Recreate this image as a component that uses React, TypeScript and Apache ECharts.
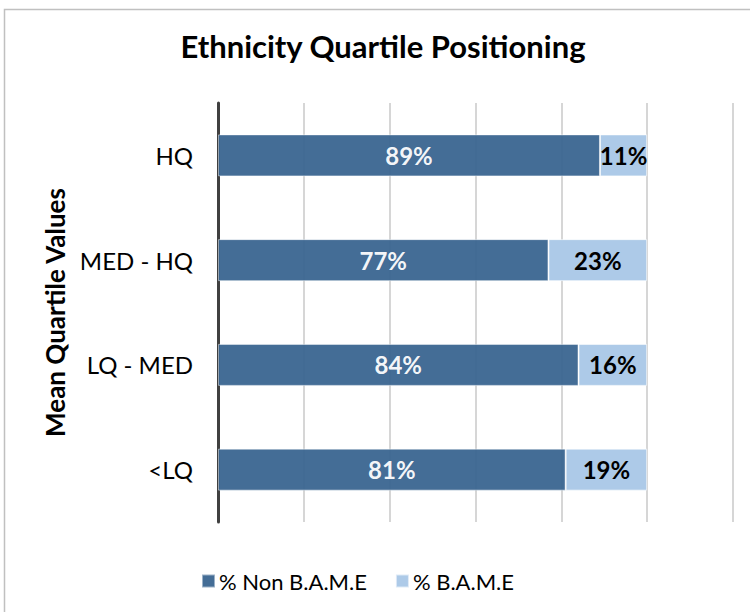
import React, { useEffect, useRef } from "react";
import * as echarts from "echarts";

const categories = ["<LQ", "LQ - MED", "MED - HQ", "HQ"];
const nonBame = [81, 84, 77, 89];
const bame = [19, 16, 23, 11];
const seriesNames = ["% Non B.A.M.E", "% B.A.M.E"];
const titleText = "Ethnicity Quartile Positioning";
const yAxisName = "Mean Quartile Values";

const FONT = "Lato, 'Open Sans', sans-serif";

export default function App() {
  const ref = useRef<HTMLDivElement>(null);
  useEffect(() => {
    if (!ref.current) return;
    const chart = echarts.init(ref.current, undefined, { renderer: "svg" });
    chart.setOption({
      animation: false,
      backgroundColor: "#ffffff",
      title: {
        text: titleText,
        left: 378,
        textAlign: "center",
        top: 25,
        textStyle: { fontFamily: FONT, fontSize: 31, fontWeight: "bold", color: "#000" },
      },
      graphic: [
        {
          type: "rect",
          shape: { x: 4.5, y: 9.5, width: 800, height: 700 },
          style: { fill: "none", stroke: "#c0c0c0", lineWidth: 1.5 },
          silent: true,
        },
      ],
      legend: {
        bottom: 20,
        left: 201,
        padding: 0,
        itemWidth: 13,
        itemHeight: 13,
        itemGap: 28,
        icon: "rect",
        textStyle: { fontFamily: FONT, fontSize: 22, color: "#000", padding: [0, 0, 0, -1] },
        data: seriesNames,
      },
      grid: { left: 218, right: 17, top: 103, bottom: 90, containLabel: false },
      xAxis: {
        type: "value",
        min: 0,
        max: 120,
        interval: 20,
        axisLabel: { show: false },
        axisLine: { show: false },
        axisTick: { show: false },
        splitLine: { show: true, lineStyle: { color: "#c8c8c8", width: 1.5 } },
      },
      yAxis: {
        type: "category",
        data: categories,
        name: yAxisName,
        nameLocation: "middle",
        nameGap: 150,
        nameRotate: 90,
        nameTextStyle: { fontFamily: FONT, fontSize: 26, fontWeight: "bold", color: "#000" },
        axisLine: { show: true, lineStyle: { color: "#404040", width: 3 } },
        axisTick: { show: false },
        axisLabel: { fontFamily: FONT, fontSize: 24, color: "#000", margin: 25 },
      },
      series: [
        {
          name: seriesNames[0],
          type: "bar",
          stack: "total",
          data: nonBame,
          barWidth: 42,
          itemStyle: { color: "#3a6590", opacity: 0.95, borderColor: "rgba(255,255,255,0.5)", borderWidth: 1 },
          label: {
            show: true,
            position: "inside",
            formatter: "{c}%",
            fontFamily: FONT,
            fontSize: 24,
            fontWeight: "bold",
            color: "#ffffff",
          },
        },
        {
          name: seriesNames[1],
          type: "bar",
          stack: "total",
          data: bame,
          barWidth: 42,
          itemStyle: { color: "#adcae8", borderColor: "rgba(255,255,255,0.6)", borderWidth: 1 },
          label: {
            show: true,
            position: "inside",
            formatter: "{c}%",
            fontFamily: FONT,
            fontSize: 24,
            fontWeight: "bold",
            color: "#000000",
          },
        },
      ],
    });
    return () => chart.dispose();
  }, []);
  return (
    <div
      ref={ref}
      style={{ position: "absolute", left: 0, top: 0, width: 750, height: 612 }}
    />
  );
}
